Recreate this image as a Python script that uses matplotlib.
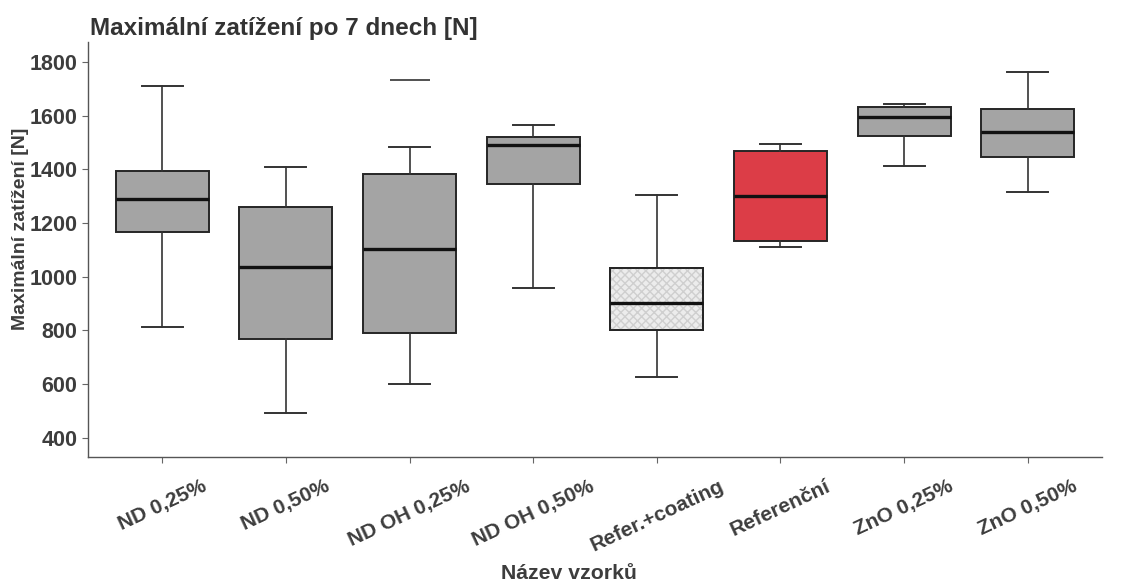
import matplotlib
matplotlib.use("Agg")
import matplotlib.pyplot as plt
from matplotlib.patches import PathPatch

plt.rcParams['font.family'] = ['Liberation Sans', 'DejaVu Sans']

# values (N)
samples = ["ND 0,25%", "ND 0,50%", "ND OH 0,25%", "ND OH 0,50%",
           "Refer.+coating", "Referenční", "ZnO 0,25%", "ZnO 0,50%"]
whisker_low = [813, 491, 601, 959, 625, 1110, 1412, 1317]
q1 = [1166, 768, 791, 1346, 800, 1134, 1525, 1446]
median = [1290, 1038, 1104, 1490, 904, 1302, 1595, 1538]
q3 = [1395, 1259, 1383, 1521, 1034, 1468, 1631, 1625]
whisker_high = [1711, 1407, 1484, 1564, 1304, 1495, 1642, 1762]
outliers = [[], [], [1732], [], [], [], [], []]
box_colors = ["#a4a4a4", "#a4a4a4", "#a4a4a4", "#a4a4a4",
              "#ececec", "#dc3d47", "#a4a4a4", "#a4a4a4"]
yticks = [400, 600, 800, 1000, 1200, 1400, 1600, 1800]

text_col = "#3d3d3d"

fig = plt.figure(figsize=(11.28, 5.83), dpi=100)
ax = fig.add_axes([88 / 1128, 1 - 457 / 583, (1102 - 88) / 1128, (457 - 42) / 583])

stats = []
for i, name in enumerate(samples):
    stats.append({"label": name, "whislo": whisker_low[i], "q1": q1[i],
                  "med": median[i], "q3": q3[i], "whishi": whisker_high[i],
                  "fliers": outliers[i]})

pos = list(range(1, len(samples) + 1))
bp = ax.bxp(stats, positions=pos, widths=0.75, patch_artist=True,
            capwidths=0.33, showfliers=True,
            boxprops=dict(edgecolor="#262626", linewidth=1.4),
            medianprops=dict(color="#111111", linewidth=2.4, zorder=4),
            whiskerprops=dict(color="#333333", linewidth=1.2),
            capprops=dict(color="#333333", linewidth=1.4),
            flierprops=dict(marker="_", markersize=29, markeredgewidth=1.2,
                            markeredgecolor="#333333"))

for patch, c in zip(bp["boxes"], box_colors):
    patch.set_facecolor(c)

# textured fill on the coating box
coat = bp["boxes"][4]
ax.add_patch(PathPatch(coat.get_path(), facecolor="none", edgecolor="#cfcfcf",
                       hatch="xxxx", linewidth=0, zorder=coat.get_zorder() + 0.1))
ax.add_patch(PathPatch(coat.get_path(), facecolor="none", edgecolor="#262626",
                       linewidth=1.4, zorder=coat.get_zorder() + 0.2))

ax.set_xlim(0.4, 8.6)
ax.set_ylim(329, 1874)
ax.set_yticks(yticks)
ax.set_xticks(pos)
ax.set_xticklabels(samples, rotation=25, ha="center", va="top",
                   fontsize=15, fontweight="bold", color=text_col)
ax.tick_params(axis="x", pad=10, length=4, color="#666666")
ax.tick_params(axis="y", labelsize=15.5, length=4, color="#666666",
               labelcolor=text_col)
for lbl in ax.get_yticklabels():
    lbl.set_fontweight("bold")

for s in ["top", "right"]:
    ax.spines[s].set_visible(False)
for s in ["left", "bottom"]:
    ax.spines[s].set_color("#555555")
    ax.spines[s].set_linewidth(1.0)

ax.set_ylabel("Maximální zatížení [N]", fontsize=14, fontweight="bold",
              color=text_col)
ax.yaxis.set_label_coords(-0.058, 0.549)

fig.text(90 / 1128, 1 - 28 / 583, "Maximální zatížení po 7 dnech [N]",
         fontsize=17.5, fontweight="bold", color="#333333", va="center", ha="left")
fig.text(569 / 1128, 1 - 564 / 583, "Název vzorků", fontsize=15.3,
         fontweight="bold", color=text_col, ha="center", va="top")

fig.savefig("out.png", dpi=100)
